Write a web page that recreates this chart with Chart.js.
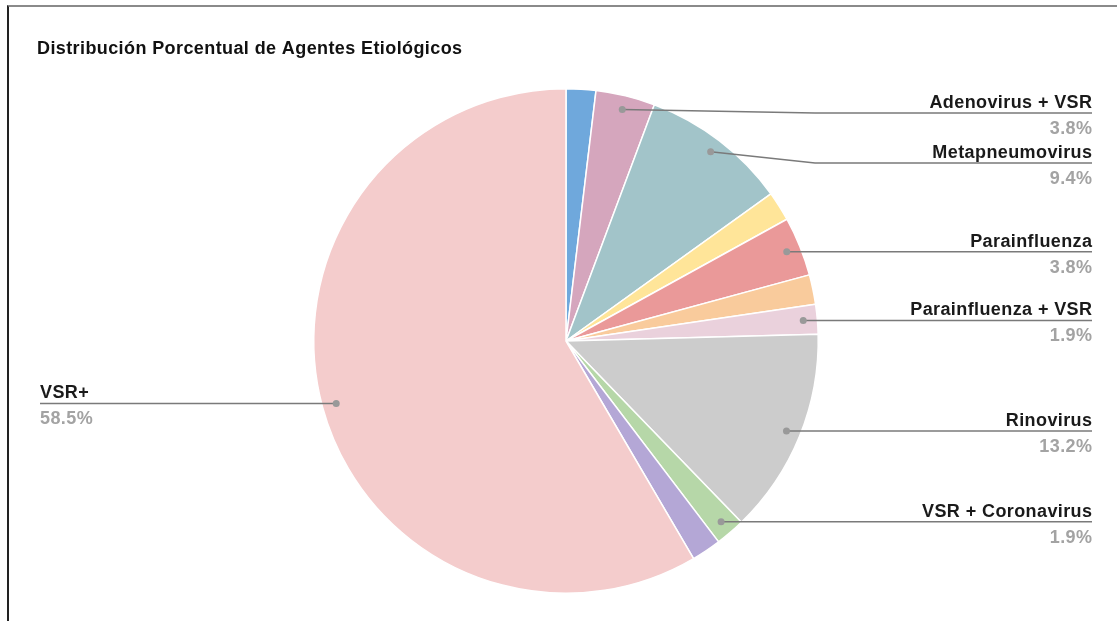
<!DOCTYPE html>
<html lang="es">
<head>
<meta charset="utf-8">
<title>Distribución Porcentual de Agentes Etiológicos</title>
<script src="https://cdn.jsdelivr.net/npm/chart.js@4.4.1/dist/chart.umd.min.js"></script>
<style>
  html, body { margin: 0; padding: 0; background: #fff; }
  #wrap { position: relative; width: 1117px; height: 621px; overflow: hidden; }
  #frame {
    position: absolute; left: 7px; top: 5px; right: 0; bottom: 0;
    border-top: 2px solid #8a8a8a; border-left: 2px solid #222;
  }
  #agentsChart { position: absolute; left: 0; top: 0; }
</style>
</head>
<body>
<div id="wrap">
  <div id="frame"></div>
  <canvas id="agentsChart" width="1117" height="621"></canvas>
</div>
<script>
// Agentes etiológicos, en sentido horario desde las 12
const agentes = [
  "Adenovirus",
  "Adenovirus + VSR",
  "Metapneumovirus",
  "Influenza",
  "Parainfluenza",
  "Bocavirus",
  "Parainfluenza + VSR",
  "Rinovirus",
  "VSR + Coronavirus",
  "Coronavirus",
  "VSR+",
];
// porcentaje de casos
const porcentajes = [1.9, 3.8, 9.4, 1.9, 3.8, 1.9, 1.9, 13.2, 1.9, 1.9, 58.5];
// qué porciones llevan etiqueta con línea guía
const conEtiqueta = [false, true, true, false, true, false, true, true, true, false, true];
const colores = [
  "#6fa8dc", "#d5a6bd", "#a2c4c9", "#ffe599", "#ea9999", "#f9cb9c",
  "#ead1dc", "#cccccc", "#b6d7a8", "#b4a7d6", "#f4cccc",
];

const TITULO = "Distribución Porcentual de Agentes Etiológicos";
const FUENTE = '"Liberation Sans", Arial, sans-serif';

// Título + etiquetas con línea guía (estilo hoja de cálculo)
const leaderLabels = {
  id: "leaderLabels",
  afterDraw(chart) {
    const ctx = chart.ctx;
    const meta = chart.getDatasetMeta(0);
    const rightEdge = 1092;
    const leftEdge = 40;

    ctx.save();
    ctx.letterSpacing = "0.4px";
    ctx.fillStyle = "#111";
    ctx.font = "bold 18px " + FUENTE;
    ctx.textAlign = "left";
    ctx.textBaseline = "alphabetic";
    ctx.fillText(TITULO, 37, 54);

    // puntos de anclaje dentro de cada porción
    const items = [];
    meta.data.forEach((arc, i) => {
      if (!conEtiqueta[i]) return;
      const p = arc.getProps(["x", "y", "startAngle", "endAngle", "outerRadius"], true);
      const mid = (p.startAngle + p.endAngle) / 2;
      const r = p.outerRadius * 0.944;
      const ax = p.x + Math.cos(mid) * r;
      const ay = p.y + Math.sin(mid) * r;
      items.push({ i, ax, ay, ly: ay, right: ax >= p.x });
    });

    // separar etiquetas del lado derecho para que no se encimen
    const derecha = items.filter(d => d.right).sort((a, b) => a.ay - b.ay);
    let prev = -Infinity;
    derecha.forEach(d => {
      d.ly = Math.max(d.ly, 113, prev + 50);
      prev = d.ly;
    });

    items.forEach(d => {
      ctx.strokeStyle = "#7a7a7a";
      ctx.lineWidth = 1.5;
      ctx.beginPath();
      ctx.moveTo(d.ax, d.ay);
      if (d.right) {
        if (Math.abs(d.ly - d.ay) > 0.5) ctx.lineTo(Math.max(d.ax, 815), d.ly);
        ctx.lineTo(rightEdge, d.ly);
      } else {
        ctx.lineTo(leftEdge, d.ly);
      }
      ctx.stroke();

      ctx.fillStyle = "#999";
      ctx.beginPath();
      ctx.arc(d.ax, d.ay, 3.5, 0, Math.PI * 2);
      ctx.fill();

      // con letterSpacing el texto alineado a la derecha deja un hueco al final
      const x = d.right ? rightEdge + 0.4 : leftEdge;
      ctx.textAlign = d.right ? "right" : "left";
      ctx.font = "bold 18px " + FUENTE;
      ctx.fillStyle = "#1a1a1a";
      ctx.fillText(agentes[d.i], x, d.ly - 5);
      ctx.fillStyle = "#a3a3a3";
      ctx.fillText(porcentajes[d.i].toFixed(1) + "%", x, d.ly + 21);
    });
    ctx.restore();
  },
};

new Chart(document.getElementById("agentsChart"), {
  type: "pie",
  data: {
    labels: agentes,
    datasets: [
      {
        data: porcentajes,
        backgroundColor: colores,
        borderColor: "#ffffff",
        borderWidth: 1.5,
      },
    ],
  },
  options: {
    responsive: false,
    animation: false,
    layout: {
      padding: { left: 313, right: 298, top: 88, bottom: 27 },
    },
    plugins: {
      legend: { display: false },
      tooltip: { enabled: false },
    },
  },
  plugins: [leaderLabels],
});
</script>
</body>
</html>
